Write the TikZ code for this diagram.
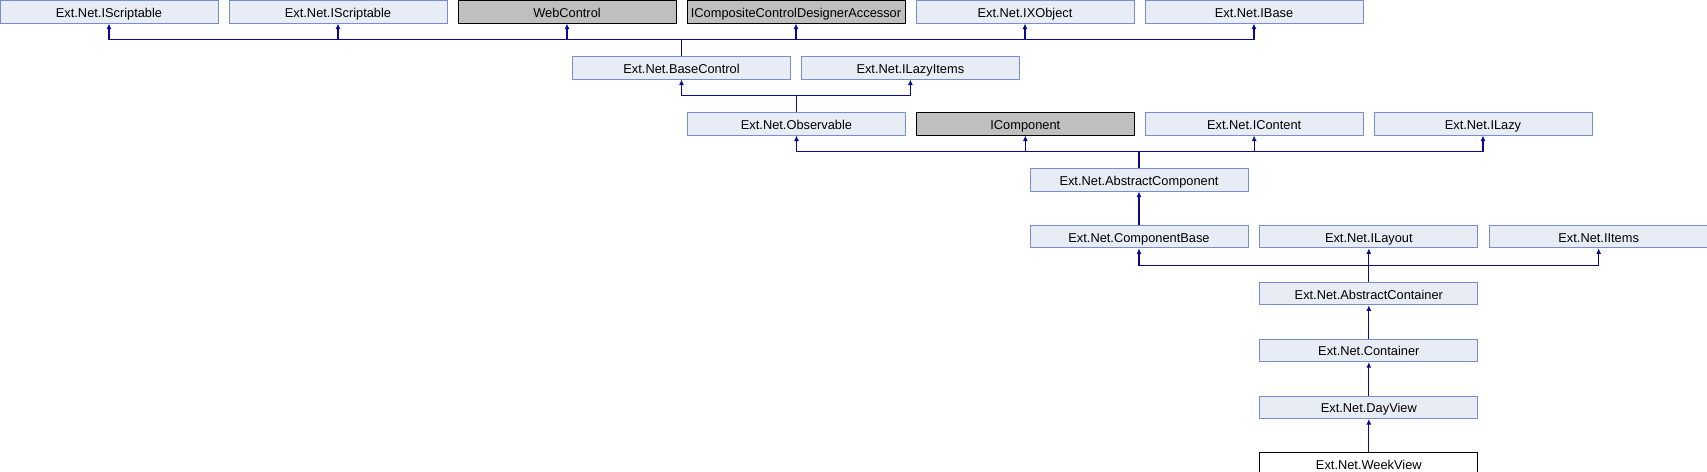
\documentclass[tikz,border=0pt]{standalone}
\usepackage{fontspec}
\setmainfont{Liberation Sans}
\usetikzlibrary{positioning, calc, arrows.meta}

\definecolor{clsfill}{RGB}{232,236,245}
\definecolor{clsline}{RGB}{120,142,204}
\definecolor{extfill}{RGB}{191,191,191}
\definecolor{inhline}{RGB}{10,10,145}

\tikzset{
    cls/.style={minimum width=4.36cm, minimum height=0.45cm, inner sep=0pt, text height=1.55ex, text depth=0.35ex, draw=clsline, line width=0.5pt, fill=clsfill, font=\fontsize{7.3}{8.7}\selectfont},
    extcls/.style={cls, draw=black, fill=extfill},
    thiscls/.style={cls, draw=black, fill=white},
    inh/.style={draw=inhline, line width=0.65pt, -{Latex[length=3.2pt, width=2.9pt]}}
}

\begin{document}
\begin{tikzpicture}[x=0.02cm, y=0.02cm, node distance=0.67cm]
    \useasboundingbox (0,0) rectangle (1707,-472);

    \foreach \name/\sty/\txt [count=\i from 0] in {IScrA/cls/Ext.Net.IScriptable, IScrB/cls/Ext.Net.IScriptable, WebCtl/extcls/WebControl, ICCDA/extcls/ICompositeControlDesignerAccessor, IXObj/cls/Ext.Net.IXObject, IBase/cls/Ext.Net.IBase}
    {
        \node (\name) at ($(109,-11.8)+\i*(229,0)$) [\sty] {\txt};
    }

    \node (BaseCtl) at (681.5,-67.8) [cls] {Ext.Net.BaseControl};
    \node (ILazyItems) [cls, right=0.2cm of BaseCtl] {Ext.Net.ILazyItems};

    \node (Observable) at (796.5,-123.8) [cls] {Ext.Net.Observable};
    \node (IComp) [extcls, right=0.2cm of Observable] {IComponent};
    \node (IContent) [cls, right=0.2cm of IComp] {Ext.Net.IContent};
    \node (ILazy) [cls, right=0.2cm of IContent] {Ext.Net.ILazy};

    \node (AbsComp) at (1139,-179.8) [cls] {Ext.Net.AbstractComponent};
    \node (CompBase) [cls, below=of AbsComp] {Ext.Net.ComponentBase};
    \node (ILayout) [cls, right=0.22cm of CompBase] {Ext.Net.ILayout};
    \node (IItems) [cls, right=0.22cm of ILayout] {Ext.Net.IItems};

    \node (AbsCont) [cls, below=of ILayout] {Ext.Net.AbstractContainer};
    \node (Cont) [cls, below=of AbsCont] {Ext.Net.Container};
    \node (DayView) [cls, below=of Cont] {Ext.Net.DayView};
    \node (WeekView) [thiscls, below=of DayView] {Ext.Net.WeekView};

    \foreach \top in {IScrA, IScrB, WebCtl, ICCDA, IXObj, IBase}
        \draw[inh] (BaseCtl.north) -- ++(0,16.75) -| (\top.south);

    \foreach \top in {BaseCtl, ILazyItems}
        \draw[inh] (Observable.north) -- ++(0,16.75) -| (\top.south);

    \foreach \top in {Observable, IComp, IContent, ILazy}
        \draw[inh] (AbsComp.north) -- ++(0,16.75) -| (\top.south);

    \draw[inh] (CompBase.north) -- (AbsComp.south);

    \foreach \top in {CompBase, ILayout, IItems}
        \draw[inh] (AbsCont.north) -- ++(0,16.75) -| (\top.south);

    \draw[inh] (Cont.north) -- (AbsCont.south);
    \draw[inh] (DayView.north) -- (Cont.south);
    \draw[inh] (WeekView.north) -- (DayView.south);
\end{tikzpicture}
\end{document}
